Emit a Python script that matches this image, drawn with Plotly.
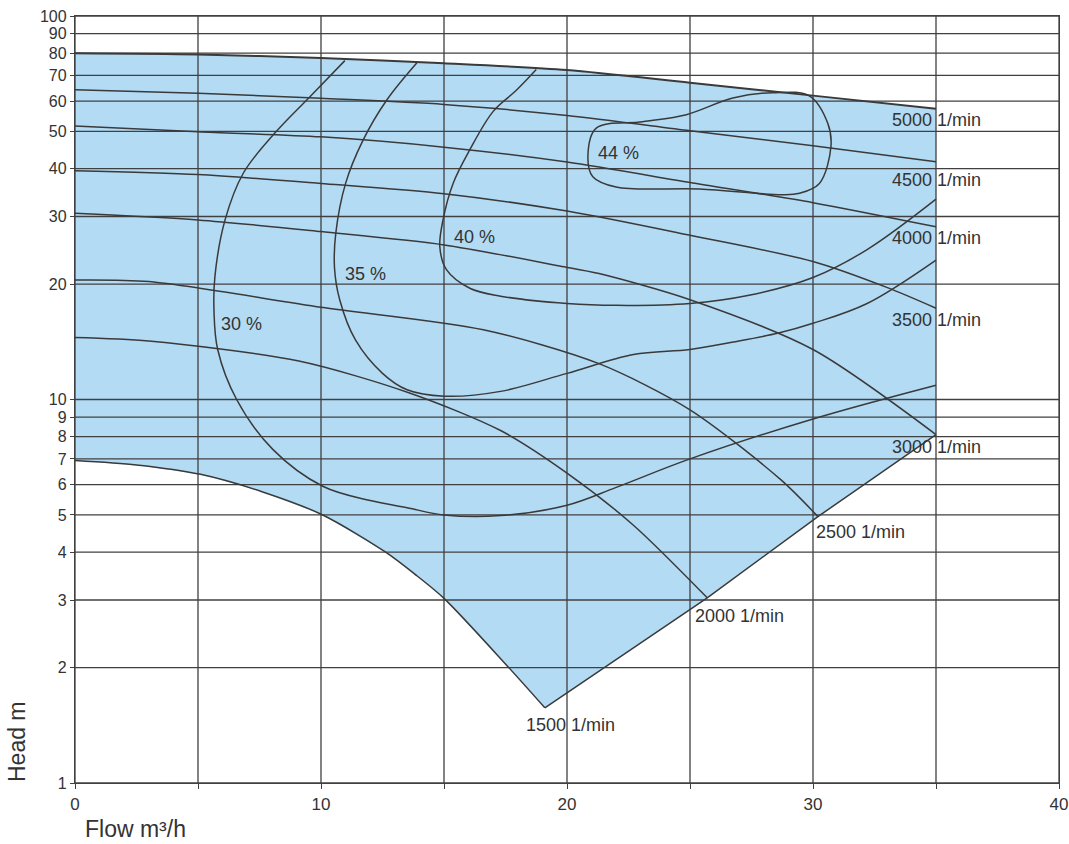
import numpy as np
import plotly.graph_objects as go

# ---- speed curves (flow m3/h, head m) ----
q_5000 = [0, 5, 10, 15, 20, 25, 30, 35]
h_5000 = [80, 79.4, 77.7, 75.3, 72.3, 67.0, 62.0, 57.3]
q_4500 = [0, 5, 10, 15, 20, 25, 30, 35]
h_4500 = [64.2, 62.9, 61.0, 58.8, 55.0, 50.2, 45.9, 41.7]
q_4000 = [0, 5, 10, 15, 20, 25, 30, 35]
h_4000 = [51.7, 49.9, 48.4, 45.5, 41.6, 36.8, 32.6, 28.2]
q_3500 = [0, 5, 10, 15, 20, 25, 30, 33, 35]
h_3500 = [39.5, 38.6, 36.6, 34.4, 31.0, 26.8, 22.9, 19.6, 17.3]
q_3000 = [0, 5, 10, 15, 19.7, 21.3, 25, 30, 35]
h_3000 = [30.6, 29.4, 27.4, 25.3, 22.3, 21.3, 18.2, 13.5, 8.1]
q_2500 = [0, 3, 10, 16.6, 21.3, 25, 28.7, 30.2]
h_2500 = [20.5, 20.3, 17.4, 15.2, 12.4, 9.4, 6.17, 4.95]
q_2000 = [0, 3, 9.1, 13.6, 17.3, 20, 22.7, 25.7]
h_2000 = [14.5, 14.2, 12.6, 10.4, 8.3, 6.43, 4.7, 3.04]
q_1500 = [0, 2.5, 5.1, 7.6, 10.07, 12.6, 13.8, 15, 17.6, 19.1]
h_1500 = [6.93, 6.75, 6.38, 5.75, 5.0, 4.01, 3.51, 3.03, 2.01, 1.57]
speed_labels = ["5000 1/min", "4500 1/min", "4000 1/min", "3500 1/min",
                "3000 1/min", "2500 1/min", "2000 1/min", "1500 1/min"]
label_q = [35, 35, 35, 35, 35, 31.95, 27.0, 20.16]
label_h = [53.5, 37.3, 26.4, 16.1, 7.5, 4.52, 2.72, 1.42]

# ---- efficiency curves ----
q_30 = [10.97, 9.55, 8.06, 6.84, 6.1, 5.69, 5.65, 5.8, 6.57, 8.05, 10.07, 12, 13.5, 15, 17.3, 20, 22, 25, 30, 35]
h_30 = [76.5, 61.6, 49, 38.9, 29.4, 21, 17, 13.5, 10, 7.4, 5.94, 5.45, 5.22, 5.0, 4.98, 5.3, 5.9, 7.0, 8.9, 10.9]
q_35 = [13.9, 12.66, 11.7, 11.0, 10.6, 10.55, 10.76, 11.4, 12.5, 13.5, 15, 17.3, 20, 22.7, 25, 26.7, 28.6, 30, 32.2, 35]
h_35 = [75.5, 60.2, 47.3, 36.6, 27.1, 22, 18.2, 14.3, 11.7, 10.6, 10.2, 10.5, 11.7, 13.1, 13.5, 14.1, 14.9, 15.8, 17.8, 23.1]
q_40 = [18.75, 17.94, 17.0, 16.05, 15.37, 14.96, 14.83, 15.1, 16.05, 17.3, 20, 22, 25, 27.4, 30, 32.2, 35]
h_40 = [72.5, 64, 56.4, 44.8, 36.6, 29.4, 25, 21.8, 19.5, 18.6, 17.8, 17.6, 17.8, 18.7, 20.8, 24.6, 33.3]
q_44 = [20.85, 21.19, 23.08, 24.85, 26.74, 28.36, 29.85, 30.6, 30.73, 30.26, 29.45, 28.77, 25.39, 22.0, 21.05, 20.85]
h_44 = [43.0, 51.0, 53.0, 55.3, 61.1, 63.1, 61.9, 52.5, 45.7, 36.6, 34.5, 34.2, 35.4, 35.8, 38.1, 43.0]
eff_labels = ["30 %", "35 %", "40 %", "44 %"]
eff_q = [6.77, 11.8, 16.25, 22.1]
eff_h = [15.7, 21.3, 26.6, 44.0]

# ---- axes ----
x_ticks = [0, 5, 10, 15, 20, 25, 30, 35, 40]
x_ticktext = ["0", "", "10", "", "20", "", "30", "", "40"]
y_ticks = [1, 2, 3, 4, 5, 6, 7, 8, 9, 10, 20, 30, 40, 50, 60, 70, 80, 90, 100]
y_ticktext = [str(v) for v in y_ticks]

FILL = "#b3dbf4"
INK = "#3a3a3a"
GRID = "#404040"
TXT = "#333333"
FONT = "Liberation Sans, Arial, sans-serif"

W, H = 1069, 844
L, T, R, B = 75, 16, 10, 61
PW, PH = W - L - R, H - T - B

fig = go.Figure()

# operating-area fill: 5000 curve, right edge, end-of-curve line, 1500 curve back
max_q = [q_3000[-1], q_2500[-1], q_2000[-1], q_1500[-1]]
max_h = [h_3000[-1], h_2500[-1], h_2000[-1], h_1500[-1]]
fill_x = list(q_5000) + max_q + list(reversed(q_1500)) + [q_5000[0]]
fill_y = list(h_5000) + max_h + list(reversed(h_1500)) + [h_5000[0]]
fig.add_trace(go.Scatter(x=fill_x, y=fill_y, mode="lines", fill="toself",
                         fillcolor=FILL, line=dict(width=0), hoverinfo="skip"))

# grid lines drawn above the fill
gx, gy = [], []
for v in x_ticks:
    gx += [v, v, None]
    gy += [1, 100, None]
for v in y_ticks:
    gx += [0, 40, None]
    gy += [v, v, None]
fig.add_trace(go.Scatter(x=gx, y=gy, mode="lines", line=dict(color=GRID, width=1.3),
                         hoverinfo="skip"))

# speed curves
for q, h in [(q_5000, h_5000), (q_4500, h_4500), (q_4000, h_4000), (q_3500, h_3500),
             (q_3000, h_3000), (q_2500, h_2500), (q_2000, h_2000), (q_1500, h_1500)]:
    w = 2.0 if q is q_5000 else 1.5
    fig.add_trace(go.Scatter(x=q, y=h, mode="lines",
                             line=dict(color=INK, width=w, shape="spline", smoothing=0.8)))

# end-of-curve boundary
fig.add_trace(go.Scatter(x=max_q, y=max_h, mode="lines", line=dict(color=INK, width=1.5)))

# efficiency curves
for q, h in [(q_30, h_30), (q_35, h_35), (q_40, h_40), (q_44, h_44)]:
    fig.add_trace(go.Scatter(x=q, y=h, mode="lines",
                             line=dict(color=INK, width=1.5, shape="spline", smoothing=1.0)))

annotations = []
for t, q, h in zip(speed_labels, label_q, label_h):
    annotations.append(dict(x=q, y=np.log10(h), xref="x", yref="y", text=t,
                            showarrow=False, xanchor="center", yanchor="middle",
                            font=dict(family=FONT, size=18, color=TXT)))
for t, q, h in zip(eff_labels, eff_q, eff_h):
    annotations.append(dict(x=q, y=np.log10(h), xref="x", yref="y", text=t,
                            showarrow=False, xanchor="center", yanchor="middle",
                            font=dict(family=FONT, size=18, color=TXT)))
annotations.append(dict(x=(83 - 75) / PW, y=-(829 - 783) / PH, xref="paper", yref="paper",
                        text="Flow m³/h", showarrow=False, xanchor="left", yanchor="middle",
                        font=dict(family=FONT, size=23, color=TXT)))
annotations.append(dict(x=-(75 - 17) / PW, y=(783 - 742) / PH, xref="paper", yref="paper",
                        text="Head m", showarrow=False, textangle=-90,
                        xanchor="center", yanchor="middle",
                        font=dict(family=FONT, size=23, color=TXT)))

fig.update_layout(
    width=W, height=H,
    margin=dict(l=L, r=R, t=T, b=B, autoexpand=False),
    paper_bgcolor="white", plot_bgcolor="white",
    showlegend=False,
    annotations=annotations,
    font=dict(family=FONT, size=17, color=TXT),
)
fig.update_xaxes(range=[0, 40], tickvals=x_ticks, ticktext=x_ticktext, showgrid=False,
                 zeroline=False, showline=True, mirror=True, linecolor=GRID, linewidth=1.3,
                 ticks="outside", ticklen=5, tickcolor=GRID, automargin=False,
                 ticklabeloverflow="allow",
                 tickfont=dict(family=FONT, size=17, color=TXT))
fig.update_yaxes(type="log", range=[0, 2], tickvals=y_ticks, ticktext=y_ticktext,
                 showgrid=False, zeroline=False, showline=True, mirror=True,
                 linecolor=GRID, linewidth=1.3, ticks="outside", ticklen=4, tickcolor=GRID,
                 automargin=False, ticklabeloverflow="allow",
                 tickfont=dict(family=FONT, size=16, color=TXT))

fig.write_html("out.html", config={"displayModeBar": False},
               post_script="document.body.style.margin='0';document.body.style.overflow='hidden';")
